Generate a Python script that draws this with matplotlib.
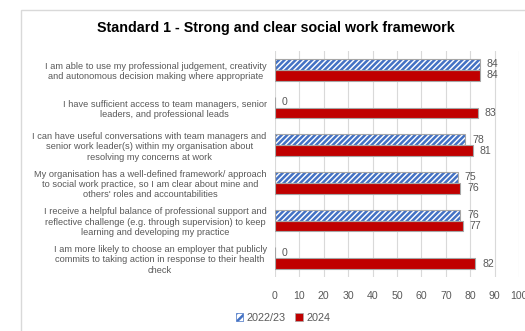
import matplotlib
matplotlib.use("Agg")
import matplotlib.pyplot as plt
from matplotlib.patches import Rectangle, Patch

plt.rcParams['font.family'] = ['Liberation Sans', 'DejaVu Sans']
plt.rcParams['hatch.linewidth'] = 1.8

title = "Standard 1 - Strong and clear social work framework"
categories = [
    "I am able to use my professional judgement, creativity\nand autonomous decision making where appropriate",
    "I have sufficient access to team managers, senior\nleaders, and professional leads",
    "I can have useful conversations with team managers and\nsenior work leader(s) within my organisation about\nresolving my concerns at work",
    "My organisation has a well-defined framework/ approach\nto social work practice, so I am clear about mine and\nothers' roles and accountabilities",
    "I receive a helpful balance of professional support and\nreflective challenge (e.g. through supervision) to keep\nlearning and developing my practice",
    "I am more likely to choose an employer that publicly\ncommits to taking action in response to their health\ncheck",
]
series_names = ["2022/23", "2024"]
values_2022 = [84, 0, 78, 75, 76, 0]
values_2024 = [84, 83, 81, 76, 77, 82]
x_ticks = [0, 10, 20, 30, 40, 50, 60, 70, 80, 90, 100]

W, H = 525, 331
fig = plt.figure(figsize=(W / 100, H / 100), dpi=100)

# outer chart frame
fig.patches.append(Rectangle((21 / W, -0.1), 1.2, 1 - 10 / H + 0.1,
                             transform=fig.transFigure, fill=False,
                             edgecolor='#D9D9D9', linewidth=1.0))

ax = fig.add_axes([275 / W, 1 - 277 / H, (519 - 275) / W, (277 - 51) / H])

grey_txt = '#595959'
hatch_blue = '#4472C4'
red = '#C00000'
edge = '#A6A6A6'
h = 0.29

ys = list(range(len(categories)))
y_top = [y - h / 2 for y in ys]
y_bot = [y + h / 2 for y in ys]

# 2022/23: hatched fill, then outline
ax.barh(y_top, values_2022, height=h, color='white', hatch='//////',
        edgecolor=hatch_blue, linewidth=0, zorder=3)
ax.barh(y_top, values_2022, height=h, color='none', edgecolor=edge,
        linewidth=0.8, zorder=4)
# 2024: solid red
ax.barh(y_bot, values_2024, height=h, color=red, edgecolor=edge,
        linewidth=0.8, zorder=3)

for yv, v in zip(y_top, values_2022):
    ax.annotate(f"{v}", (v, yv), xytext=(5, 0), textcoords='offset points',
                ha='left', va='center', fontsize=7.6, color=grey_txt)
for yv, v in zip(y_bot, values_2024):
    ax.annotate(f"{v}", (v, yv), xytext=(5, 0), textcoords='offset points',
                ha='left', va='center', fontsize=7.6, color=grey_txt)

ax.set_xlim(0, 100)
ax.set_ylim(len(categories) - 0.5, -0.5)
ax.set_xticks(x_ticks)
ax.set_xticklabels([str(t) for t in x_ticks], fontsize=7.6, color=grey_txt)
ax.set_yticks(ys)
ax.set_yticklabels(categories, fontsize=6.7, color=grey_txt,
                   multialignment='center', linespacing=1.2)
ax.tick_params(axis='both', length=0)
ax.tick_params(axis='x', pad=10)
ax.tick_params(axis='y', pad=6)
ax.grid(axis='x', color='#D9D9D9', linewidth=0.8, zorder=0)
ax.set_axisbelow(True)
for s in ax.spines.values():
    s.set_visible(False)

fig.text(276 / W, 1 - 28 / H, title, ha='center', va='center',
         fontsize=10.3, fontweight='bold', color='black')

handles = [Patch(facecolor='white', hatch='////', edgecolor=hatch_blue, linewidth=0.5),
           Patch(facecolor=red, edgecolor=edge, linewidth=0.5)]
fig.legend(handles, series_names, loc='center', bbox_to_anchor=(283 / W, 1 - 318 / H),
           ncol=2, frameon=False, fontsize=7.8, labelcolor=grey_txt,
           handlelength=0.7, handleheight=0.7, handletextpad=0.3, columnspacing=0.9)

fig.savefig("out.png", dpi=100)
